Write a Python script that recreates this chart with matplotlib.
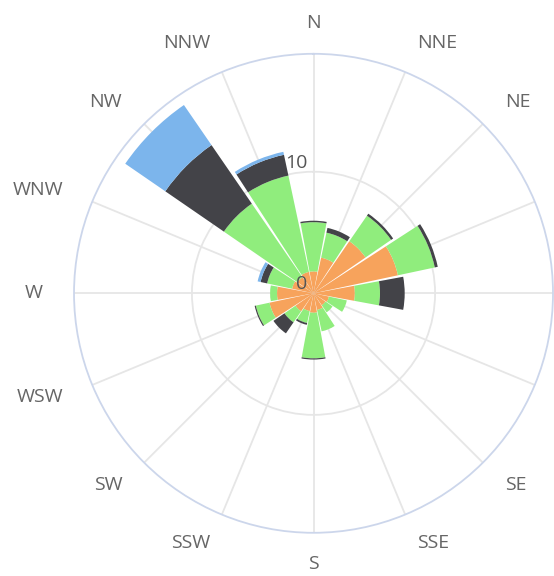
import numpy as np
import matplotlib.pyplot as plt
from matplotlib.transforms import offset_copy

directions = ["N", "NNE", "NE", "ENE", "E", "ESE", "SE", "SSE",
              "S", "SSW", "SW", "WSW", "W", "WNW", "NW", "NNW"]

# stacked from the centre outwards
orange_vals = [1.8, 3.0, 5.2, 7.1, 3.4, 1.3, 1.2, 1.4, 1.6, 1.5, 1.8, 3.7, 3.0, 1.8, 1.6, 1.8]
green_vals = [4.05, 2.1, 2.55, 3.1, 2.07, 1.5, 0.7, 1.8, 3.75, 1.0, 1.1, 1.15, 0.57, 2.1, 7.35, 8.1]
dark_vals = [0.12, 0.4, 0.2, 0.25, 2.03, 0, 0, 0, 0.1, 0.15, 1.1, 0.1, 0, 0.55, 5.85, 1.75]
blue_vals = [0, 0, 0, 0, 0, 0, 0, 0, 0, 0, 0, 0, 0, 0.25, 4.0, 0.25]

r_ticks = [0, 10]
r_max = 19.7

colors = ["#f7a35c", "#90ed7d", "#434348", "#7cb5ec"]


def main():
    plt.rcParams["font.family"] = ["Open Sans", "DejaVu Sans"]

    fig = plt.figure(figsize=(5.54, 5.76), dpi=100)
    ax = fig.add_axes([0.1336, 0.075, 0.8646, 0.8316], projection="polar")
    ax.set_theta_zero_location("N")
    ax.set_theta_direction(-1)
    ax.set_ylim(0, r_max)

    theta = np.radians(np.arange(len(directions)) * 360 / len(directions))
    width = 2 * np.pi / len(directions) * 0.93

    bottom = np.zeros(len(directions))
    for vals, col in zip([orange_vals, green_vals, dark_vals, blue_vals], colors):
        vals = np.array(vals)
        ax.bar(theta, vals, width=width, bottom=bottom, color=col,
               linewidth=0, align="center", zorder=2)
        bottom = bottom + vals

    # grid
    ax.set_xticks(theta)
    ax.set_xticklabels([])
    ax.set_yticks([10])
    ax.set_yticklabels([])
    ax.tick_params(length=0)
    ax.grid(True, color="#e6e6e6", linewidth=1.3)
    ax.set_axisbelow(True)
    ax.spines["polar"].set_color("#ccd6eb")
    ax.spines["polar"].set_linewidth(1.3)

    # direction labels (the ones falling past the right edge are not shown)
    fig_w = fig.get_figwidth() * fig.dpi
    for th, lab in zip(theta, directions):
        s, c = np.sin(th), np.cos(th)
        if abs(s) < 0.2:
            ha = "center"
        elif s > 0:
            ha = "left"
        else:
            ha = "right"
        tr = offset_copy(ax.transData, fig=fig, x=31 * s, y=31 * c, units="dots")
        x_px = tr.transform((th, r_max))[0]
        if x_px > fig_w - 5:
            continue
        ax.text(th, r_max, lab, transform=tr, ha=ha, va="center",
                fontsize=14, color="#666666", clip_on=False)

    # radial labels
    for v in r_ticks:
        tr = offset_copy(ax.transData, fig=fig, x=-6, y=4, units="dots")
        ax.text(0, v, str(v), transform=tr, ha="right", va="baseline",
                fontsize=14, color="#555555", zorder=5)

    fig.savefig("out.png", dpi=100)


if __name__ == "__main__":
    main()
